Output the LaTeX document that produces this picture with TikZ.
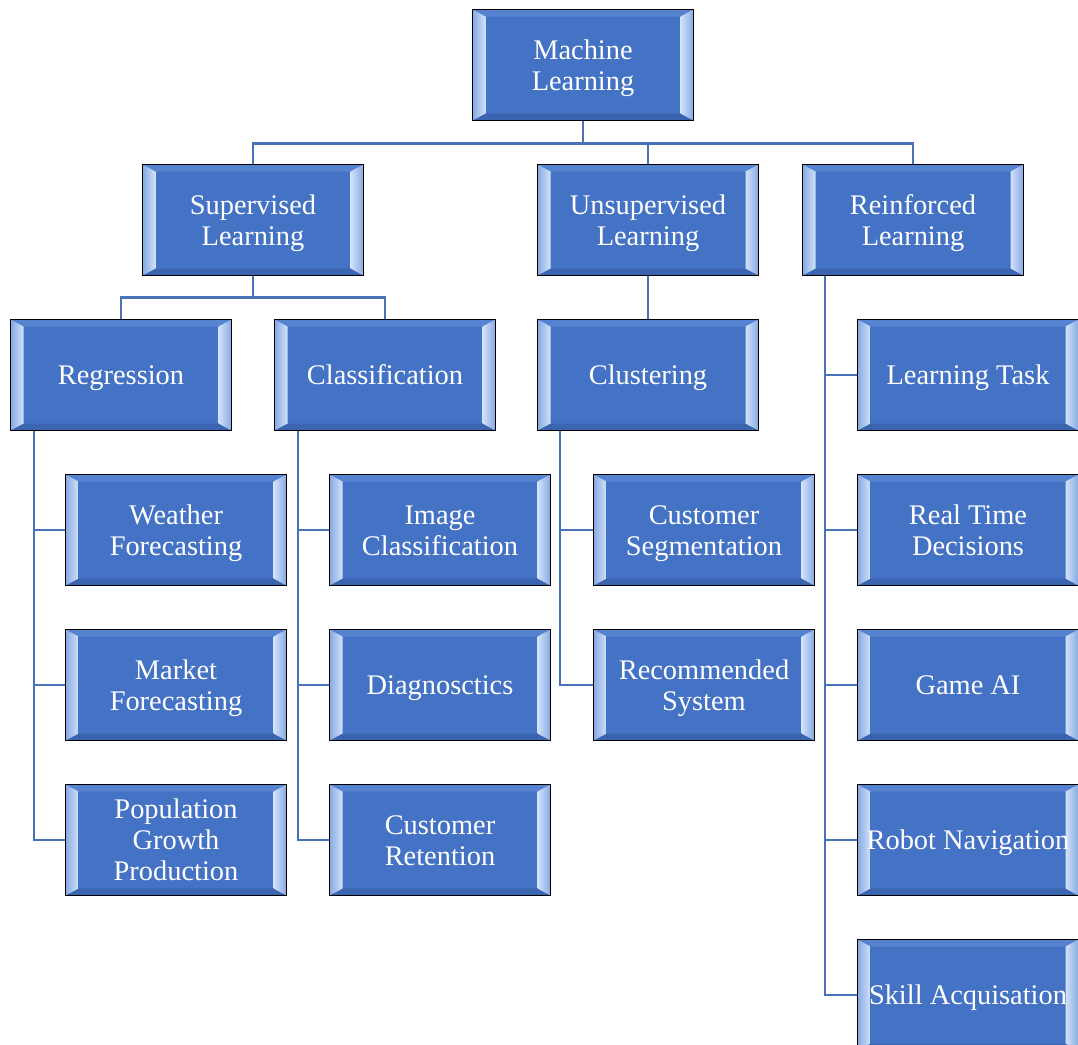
\documentclass[tikz,border=0pt]{standalone}
\usepackage{fontspec}
\setmainfont{Liberation Serif}
\usetikzlibrary{calc}
\definecolor{mlblue}{HTML}{4472C4}
\definecolor{mlline}{HTML}{4A72B8}
\definecolor{bevlight}{HTML}{D2E3FA}
\definecolor{bevmid}{HTML}{86A8E2}
\definecolor{bevtop}{HTML}{5583CF}
\definecolor{bevbot}{HTML}{3A64B0}
\newcommand\mlfont{\fontsize{28.4}{31}\selectfont}
\newcommand\mltopstrut{\rule{0pt}{29pt}}
\newcommand\mllines[1]{\mltopstrut#1\strut}
\tikzset{
  mlbox/.style={draw=black, line width=1.6pt, fill=mlblue,
    minimum width=221pt, minimum height=111pt, inner sep=2pt,
    text=white, align=center, font=\mlfont,
    path picture={
      \coordinate (bnw) at (path picture bounding box.north west);
      \coordinate (bne) at (path picture bounding box.north east);
      \coordinate (bsw) at (path picture bounding box.south west);
      \coordinate (bse) at (path picture bounding box.south east);
      \fill[bevtop] (bnw) -- (bne) -- ($(bne)+(-13pt,-7pt)$) -- ($(bnw)+(13pt,-7pt)$) -- cycle;
      \fill[bevbot] (bsw) -- (bse) -- ($(bse)+(-13pt,7pt)$) -- ($(bsw)+(13pt,7pt)$) -- cycle;
      \shade[left color=bevmid, right color=bevlight]
        (bnw) -- ($(bnw)+(13pt,-7pt)$) -- ($(bsw)+(13pt,7pt)$) -- (bsw) -- cycle;
      \shade[left color=bevlight, right color=bevmid]
        (bne) -- ($(bne)+(-13pt,-7pt)$) -- ($(bse)+(-13pt,7pt)$) -- (bse) -- cycle;
    }},
  conn/.style={draw=mlline, line width=2.4pt}
}
\begin{document}
\begin{tikzpicture}[x=1pt, y=-1pt]
\useasboundingbox (0,0) rectangle (1078,1044);

% top level
\node[mlbox] (ml) at (583,65) {\mllines{Machine\\Learning}};
\node[mlbox] (sl) at (253,220) {\mllines{Supervised\\Learning}};
\node[mlbox] (ul) at (648,220) {\mllines{Unsupervised\\Learning}};
\node[mlbox] (rl) at (913,220) {\mllines{Reinforced\\Learning}};

% second level
\node[mlbox] (reg) at (121,375) {\mllines{Regression}};
\node[mlbox] (cls) at (385,375) {\mllines{Classification}};
\node[mlbox] (clu) at (648,375) {\mllines{Clustering}};

% regression leaves
\node[mlbox] (wf) at (176,530) {\mllines{Weather\\Forecasting}};
\node[mlbox] (mf) at (176,685) {\mllines{Market\\Forecasting}};
\node[mlbox] (pg) at (176,840) {\mllines{Population\\Growth\\Production}};

% classification leaves
\node[mlbox] (ic) at (440,530) {\mllines{Image\\Classification}};
\node[mlbox] (dg) at (440,685) {\mllines{Diagnosctics}};
\node[mlbox] (cr) at (440,840) {\mllines{Customer\\Retention}};

% clustering leaves
\node[mlbox] (cs) at (704,530) {\mllines{Customer\\Segmentation}};
\node[mlbox] (rs) at (704,685) {\mllines{Recommended\\System}};

% reinforcement leaves
\node[mlbox] (lt) at (968,375) {\mllines{Learning Task}};
\node[mlbox] (rt) at (968,530) {\mllines{Real Time\\Decisions}};
\node[mlbox] (ga) at (968,685) {\mllines{Game AI}};
\node[mlbox] (rn) at (968,840) {\mllines{Robot Navigation}};
\node[mlbox] (sa) at (968,995) {\mllines{Skill Acquisation}};

% root fan-out
\draw[conn] (ml.south) -- ++(0,22) coordinate (mlj);
\draw[conn] (sl.north) |- (mlj) -| (rl.north);
\draw[conn] (mlj -| ul.north) -- (ul.north);

% supervised fan-out
\draw[conn] (sl.south) -- ++(0,21) coordinate (slj);
\draw[conn] (reg.north) |- (slj) -| (cls.north);

% unsupervised
\draw[conn] (ul.south) -- (clu.north);

% reinforced spine
\coordinate (rlx) at ($(rl.south west)+(23,0)$);
\draw[conn] (rlx) |- (sa.west);
\foreach \n in {lt,rt,ga,rn} \draw[conn] (rlx |- \n.west) -- (\n.west);

% regression spine
\coordinate (regx) at ($(reg.south west)+(24,0)$);
\draw[conn] (regx) |- (pg.west);
\foreach \n in {wf,mf} \draw[conn] (regx |- \n.west) -- (\n.west);

% classification spine
\coordinate (clsx) at ($(cls.south west)+(24,0)$);
\draw[conn] (clsx) |- (cr.west);
\foreach \n in {ic,dg} \draw[conn] (clsx |- \n.west) -- (\n.west);

% clustering spine
\coordinate (clux) at ($(clu.south west)+(23,0)$);
\draw[conn] (clux) |- (rs.west);
\draw[conn] (clux |- cs.west) -- (cs.west);
\end{tikzpicture}
\end{document}
